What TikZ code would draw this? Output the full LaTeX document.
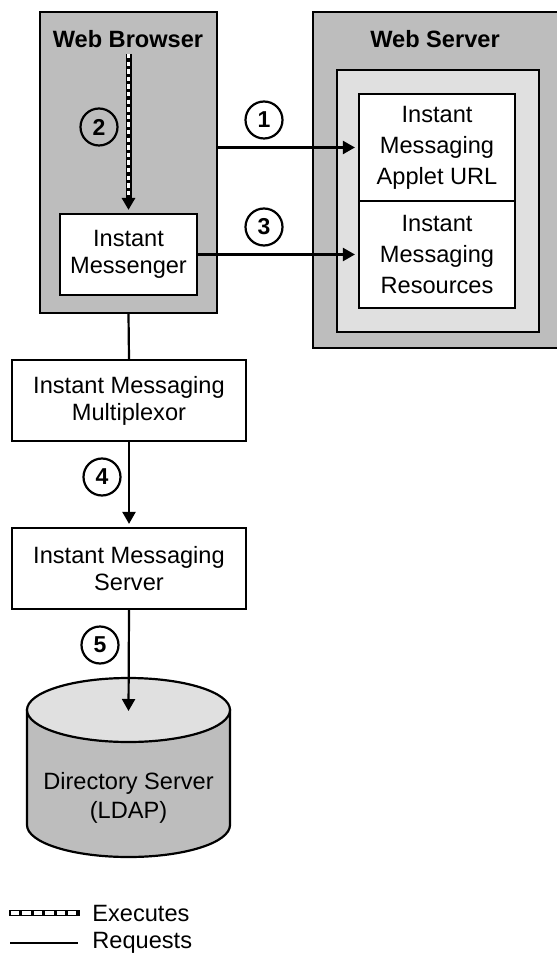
\documentclass[tikz,border=0pt]{standalone}
\usepackage{fontspec}
\setmainfont{Liberation Sans}
\usetikzlibrary{arrows.meta}
\definecolor{boxgray}{gray}{0.74}
\definecolor{panegray}{gray}{0.88}

\begin{document}
\begin{tikzpicture}[x=0.5pt,y=0.5pt,
	txt/.style={font=\fontsize{11.8}{13.5}\selectfont, align=center},
	box/.style={txt, draw, line width=1.1pt, fill=white, inner sep=0pt},
	title/.style={font=\fontsize{11.8}{13.5}\selectfont\bfseries},
	num/.style={circle, draw, line width=1.1pt, minimum size=18.5pt, inner sep=0pt, font=\fontsize{11.5}{12}\selectfont\bfseries},
	req/.style={line width=1.1pt},
	tip/.style={-{Triangle[length=6pt,width=6.5pt]}, shorten >=1.5pt},
	exec/.style={line width=3pt, postaction={draw=white, line width=1.6pt, dash pattern=on 2.2pt off 1.6pt, arrows=-, shorten >=8pt}},
	execbar/.style={line width=3pt, postaction={draw=white, line width=1.7pt, dash pattern=on 4.2pt off 1.5pt, shorten <=1pt, shorten >=1pt}}]

	\useasboundingbox (0,0) rectangle (556,-967);

	% web browser side
	\node[box, fill=boxgray, minimum width=88.5pt, minimum height=150.5pt] (browser) at (128.5,-162.5) {};
	\node[title] (browsertitle) at (128,-39) {Web Browser};
	\node[box, minimum width=68.5pt, minimum height=40.5pt] (messenger) at (128.5,-254.5) {Instant\\Messenger};
	\coordinate (execstart) at (128.5,-54);

	% web server side
	\node[box, fill=boxgray, minimum width=123.5pt, minimum height=168pt] (server) at (436.5,-180) {};
	\node[title] (servertitle) at (435,-39) {Web Server};
	\node[box, fill=panegray, minimum width=101pt, minimum height=131pt] (pane) at (438,-201) {};
	\node[box, font=\fontsize{11.8}{15.5}\selectfont, minimum width=78pt, minimum height=53.5pt] (applet) at (437,-147.5) {Instant\\Messaging\\Applet URL};
	\node[box, font=\fontsize{11.8}{15.5}\selectfont, minimum width=78pt, minimum height=53.5pt] (resources) at (437,-254.5) {Instant\\Messaging\\Resources};

	% servers
	\node[box, minimum width=117pt, minimum height=40.5pt] (mux) at (129,-400.5) {Instant Messaging\\Multiplexor};
	\node[box, minimum width=117pt, minimum height=40.5pt] (imserver) at (129,-568.5) {Instant Messaging\\Server};

	% directory
	\draw[line width=1.1pt, fill=boxgray] (27,-710) -- (27,-825) arc[start angle=180, end angle=360, x radius=50.75pt, y radius=16pt] -- (230,-710) -- cycle;
	\draw[line width=1.1pt, fill=panegray] (128.5,-710) ellipse[x radius=50.75pt, y radius=16pt];
	\node[txt, font=\fontsize{11.8}{14.5}\selectfont] (directory) at (128.5,-797.5) {Directory Server\\(LDAP)};
	\coordinate (dbtop) at (128.5,-714);

	% connectors
	\draw[req,tip] (browser.east |- applet.west) -- (applet.west);
	\draw[req,tip] (messenger.east) -- (messenger.east -| resources.west);
	\draw[exec,tip] (execstart) -- (messenger.north);
	\draw[req] (browser.south) -- (mux.north);
	\draw[req,tip] (mux.south) -- (imserver.north);
	\draw[req,tip] (imserver.south) -- (dbtop);

	% step numbers
	\node[num] (one) at (264,-120) {1};
	\node[num] (two) at (99,-127) {2};
	\node[num] (three) at (264,-227) {3};
	\node[num] (four) at (102,-477) {4};
	\node[num] (five) at (100,-645) {5};

	% legend
	\coordinate (execa) at (9,-913);
	\coordinate (execb) at (80,-913);
	\coordinate (reqa) at (10,-943);
	\coordinate (reqb) at (78,-943);
	\draw[execbar] (execa) -- (execb);
	\draw[req] (reqa) -- (reqb);
	\node[txt, anchor=west, inner sep=0pt] (exectext) at (92,-913) {Executes};
	\node[txt, anchor=west, inner sep=0pt] (reqtext) at (92,-943) {Requests};

\end{tikzpicture}
\end{document}
